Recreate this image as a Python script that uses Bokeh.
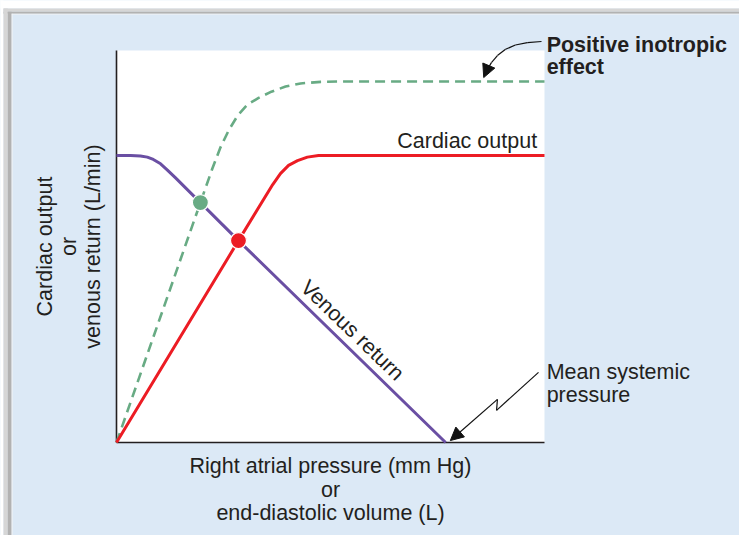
from bokeh.plotting import figure
from bokeh.models import Range1d, Label, Arrow, NormalHead, BoxAnnotation, ColumnDataSource
from bokeh.embed import file_html
from bokeh.resources import INLINE

# Venous return: plateau at low atrial pressure, then linear fall to mean systemic pressure
venous_x = [0.00, 0.33, 0.56, 0.72, 0.86, 1.03, 1.19, 1.38, 1.96, 2.85, 7.69]
venous_y = [7.32, 7.32, 7.31, 7.28, 7.22, 7.11, 6.95, 6.75, 6.12, 5.15, 0.00]

# Cardiac output (Frank-Starling curve)
cardiac_x = [0.00, 2.85, 3.65, 3.83, 4.02, 4.23, 4.46, 4.72, 5.00, 10.00]
cardiac_y = [0.00, 5.15, 6.58, 6.86, 7.07, 7.19, 7.28, 7.32, 7.32, 7.32]

# Cardiac output with a positive inotropic effect
inotropic_x = [0.00, 1.96, 2.24, 2.43, 2.62, 2.83, 3.06, 3.32, 3.62, 3.95, 4.30, 4.77, 5.23, 10.00]
inotropic_y = [0.00, 6.12, 6.99, 7.53, 7.96, 8.34, 8.62, 8.79, 8.95, 9.08, 9.16, 9.20, 9.21, 9.21]

# Equilibrium points (intersections with the venous return curve)
eq_x = [1.96, 2.85]
eq_y = [6.12, 5.15]
eq_colors = ["#68ab84", "#ec1c24"]

# Axis extent of the plotting area
X_MAX = 10.0
Y_MAX = 10.0

FONT = "Liberation Sans"
TEXT = "#231f20"
BLUE = "#dce9f6"

# The frame spans the whole canvas; the white plotting area sits inside it
p = figure(width=739, height=535, output_backend="svg", toolbar_location=None,
           x_range=Range1d(-2.7103, 14.5561), y_range=Range1d(-2.3724, 11.2755),
           x_axis_type=None, y_axis_type=None,
           min_border_left=0, min_border_right=0, min_border_top=0, min_border_bottom=0)
p.border_fill_color = BLUE
p.background_fill_color = BLUE
p.outline_line_color = None
p.grid.visible = False

# page frame: white margin and grey bevel at the top-left edge
frame_boxes = [
    dict(left=-3, right=16, top=12, bottom=11.07, fill_color="white"),
    dict(left=-3, right=-2.64, top=12, bottom=-3, fill_color="white"),
    dict(left=-2.64, right=16, top=11.07, bottom=10.99, fill_color="#d6d6d6"),
    dict(left=-2.64, right=16, top=10.99, bottom=10.94, fill_color="#b2b2b2"),
    dict(left=-2.64, right=16, top=10.94, bottom=10.92, fill_color="#f4f4f4"),
    dict(left=-2.64, right=-2.54, top=11.07, bottom=-3, fill_color="#d6d6d6"),
    dict(left=-2.54, right=-2.45, top=10.99, bottom=-3, fill_color="#b2b2b2"),
    dict(left=-2.45, right=-2.43, top=10.94, bottom=-3, fill_color="#f4f4f4"),
    # white plotting area
    dict(left=0, right=X_MAX, top=Y_MAX, bottom=0, fill_color="white"),
]
for b in frame_boxes:
    p.add_layout(BoxAnnotation(fill_alpha=1.0, line_color=None, level="underlay", **b))

# axis lines
p.segment(x0=[0, 0], y0=[0, 0], x1=[X_MAX, 0], y1=[0, Y_MAX], line_color="#231f20", line_width=1.6)

p.line(inotropic_x, inotropic_y, line_color="#68ab84", line_width=2.6, line_dash="10 6")
p.line(cardiac_x, cardiac_y, line_color="#ec1c24", line_width=3)
p.line(venous_x, venous_y, line_color="#6a4fa3", line_width=3)

src = ColumnDataSource(dict(x=eq_x, y=eq_y, c=eq_colors))
p.scatter("x", "y", source=src, size=16, fill_color="c", line_color="white", line_width=1.2)


def label(x, y, text, size="21.5px", bold=False, align="left", angle=0):
    p.add_layout(Label(x=x, y=y, text=text, text_font=FONT, text_font_size=size,
                       text_font_style="bold" if bold else "normal",
                       text_color=TEXT, text_align=align, text_baseline="middle",
                       angle=angle, angle_units="deg"))


# curve labels
label(6.56, 7.70, "Cardiac output")
label(5.51, 2.86, "Venous return", align="center", angle=-44)
label(10.05, 10.15, "Positive inotropic", bold=True)
label(10.05, 9.57, "effect", bold=True)
label(10.05, 1.79, "Mean systemic")
label(10.05, 1.20, "pressure")

# axis titles
for yy, t in [(-0.61, "Right atrial pressure (mm Hg)"), (-1.20, "or"), (-1.81, "end-diastolic volume (L)")]:
    label(5.0, yy, t, align="center")
for xx, t in [(-1.66, "Cardiac output"), (-1.12, "or"), (-0.56, "venous return (L/min)")]:
    label(xx, 5.0, t, align="center", angle=90)

# callout arrows (curved pointer and lightning-bolt pointer)
inotropic_arrow_x = [9.93, 9.60, 9.32, 9.09, 8.90, 8.76, 8.65, 8.58]
inotropic_arrow_y = [10.23, 10.20, 10.14, 10.03, 9.87, 9.69, 9.49, 9.31]
msp_arrow_x = [9.86, 8.88, 8.90, 7.80]
msp_arrow_y = [1.79, 0.82, 1.10, 0.05]


def callout(xs, ys):
    n = len(xs)
    for i in range(n - 1):
        head = NormalHead(size=13, fill_color="#111111", line_color="#111111") if i == n - 2 else None
        p.add_layout(Arrow(x_start=xs[i], y_start=ys[i], x_end=xs[i + 1], y_end=ys[i + 1],
                           line_color="#111111", line_width=1.2, end=head))


callout(inotropic_arrow_x, inotropic_arrow_y)
callout(msp_arrow_x, msp_arrow_y)

open("out.html", "w").write(file_html(p, INLINE))
